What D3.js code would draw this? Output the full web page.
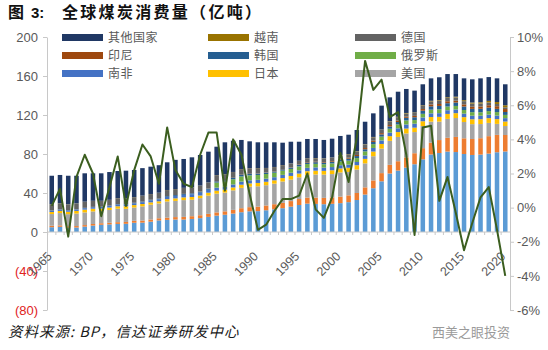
<!DOCTYPE html>
<html>
<head>
<meta charset="utf-8">
<script src="https://cdn.jsdelivr.net/npm/d3@7"></script>
<style>
  html, body { margin: 0; padding: 0; background: #fff; }
  svg { display: block; }
</style>
</head>
<body>
<div id="chart-area"></div>
<script>

// categories: 1965 ... 2020
const years = d3.range(1965, 2021);

// stacked series, bottom to top
const china = [4.9, 5.3, 4.4, 4.6, 5.5, 6.6, 7.4, 7.8, 8.3, 8.4,
  9.5, 9.6, 10.6, 11.9, 12.4, 12.8, 12.8, 13.4, 14.2, 15.5,
  16.8, 17.7, 18.9, 20.3, 21.2, 21.4, 22.3, 23.3, 24.4, 26.0,
  27.7, 29.1, 28.8, 28.5, 28.9, 29.6, 30.6, 32.8, 38.4, 44.9,
  52.0, 60.0, 63.0, 66.0, 69.5, 74.5, 79.5, 81.0, 82.5, 82.0,
  80.0, 79.0, 79.4, 80.4, 81.8, 82.6];
const india = [1.5, 1.5, 1.5, 1.5, 1.6, 1.6, 1.6, 1.7, 1.8, 1.9,
  2.0, 2.1, 2.2, 2.2, 2.3, 2.5, 2.7, 2.8, 3.0, 3.1,
  3.3, 3.5, 3.8, 4.1, 4.3, 4.6, 4.9, 5.2, 5.5, 5.7,
  6.1, 6.2, 6.5, 6.5, 6.6, 6.7, 7.0, 7.2, 7.4, 8.0,
  8.4, 8.9, 9.6, 10.5, 11.3, 11.5, 12.1, 13.3, 14.1, 15.5,
  16.1, 16.4, 16.8, 17.9, 17.8, 16.9];
const usa = [12.0, 12.6, 12.4, 12.8, 13.0, 12.9, 12.4, 13.1, 13.8, 13.5,
  13.6, 14.6, 15.2, 15.2, 16.6, 16.6, 17.2, 16.9, 17.5, 18.7,
  19.2, 19.2, 20.0, 20.9, 21.0, 20.9, 20.8, 21.1, 21.9, 22.1,
  22.3, 23.3, 23.7, 23.9, 23.9, 24.8, 24.0, 24.1, 24.6, 24.8,
  25.1, 24.6, 24.9, 24.6, 21.7, 22.7, 21.6, 18.9, 19.4, 19.4,
  16.7, 15.2, 14.5, 13.6, 11.3, 9.2];
const japan = [2.1, 2.2, 2.5, 2.7, 2.8, 2.8, 2.6, 2.5, 2.5, 2.6,
  2.5, 2.4, 2.4, 2.2, 2.4, 2.6, 2.8, 2.8, 2.7, 3.0,
  3.1, 3.0, 3.0, 3.2, 3.3, 3.4, 3.5, 3.4, 3.5, 3.7,
  3.8, 3.8, 3.9, 3.8, 3.9, 4.1, 4.3, 4.4, 4.6, 4.8,
  4.8, 4.8, 5.0, 5.0, 4.5, 4.9, 4.7, 4.9, 5.1, 5.0,
  5.0, 5.0, 5.0, 4.9, 4.9, 4.6];
const southAfrica = [1.3, 1.3, 1.4, 1.4, 1.5, 1.5, 1.6, 1.6, 1.7, 1.7,
  1.8, 1.9, 2.0, 2.1, 2.3, 2.5, 2.6, 2.8, 2.9, 3.0,
  3.1, 3.1, 3.1, 3.2, 3.2, 3.2, 3.2, 3.2, 3.3, 3.3,
  3.4, 3.4, 3.4, 3.3, 3.3, 3.3, 3.2, 3.3, 3.5, 3.7,
  3.6, 3.6, 3.9, 4.2, 4.1, 3.9, 3.8, 3.8, 3.8, 3.8,
  3.6, 3.7, 3.6, 3.6, 3.6, 3.5];
const russia = [0, 0, 0, 0, 0, 0, 0, 0, 0, 0,
  0, 0, 0, 0, 0, 0, 0, 0, 0, 0,
  5.2, 5.2, 5.3, 5.3, 5.1, 5.0, 4.8, 4.6, 4.3, 3.9,
  4.0, 3.9, 3.6, 3.5, 3.7, 3.9, 4.1, 4.0, 4.2, 3.9,
  3.9, 4.0, 3.9, 4.1, 3.7, 3.7, 3.8, 4.0, 3.8, 3.6,
  3.7, 3.6, 3.5, 3.6, 3.6, 3.3];
const korea = [0.3, 0.3, 0.3, 0.3, 0.4, 0.4, 0.4, 0.4, 0.5, 0.5,
  0.6, 0.6, 0.7, 0.7, 0.8, 0.9, 1.0, 1.0, 1.1, 1.2,
  1.3, 1.4, 1.4, 1.5, 1.4, 1.4, 1.3, 1.3, 1.4, 1.4,
  1.5, 1.6, 1.7, 1.7, 1.8, 1.9, 2.0, 2.1, 2.2, 2.3,
  2.3, 2.4, 2.5, 2.7, 2.9, 3.2, 3.4, 3.4, 3.4, 3.5,
  3.6, 3.4, 3.6, 3.6, 3.3, 3.0];
const indonesia = [0, 0, 0, 0, 0, 0, 0, 0, 0, 0,
  0, 0, 0, 0, 0, 0, 0, 0, 0.1, 0.1,
  0.1, 0.1, 0.1, 0.2, 0.2, 0.2, 0.2, 0.3, 0.3, 0.3,
  0.4, 0.5, 0.5, 0.6, 0.7, 0.9, 1.0, 1.1, 1.2, 1.2,
  1.3, 1.4, 1.5, 1.2, 1.4, 1.7, 1.9, 2.0, 2.0, 1.9,
  2.2, 2.2, 2.3, 2.4, 2.7, 3.0];
const germany = [6.4, 6.2, 5.9, 6.0, 6.2, 6.1, 5.9, 5.8, 6.0, 5.9,
  5.7, 6.0, 5.8, 5.9, 6.2, 6.1, 6.1, 6.0, 6.0, 6.1,
  6.2, 6.1, 5.9, 5.8, 5.7, 5.4, 4.6, 4.2, 4.0, 3.9,
  3.8, 3.8, 3.6, 3.6, 3.4, 3.6, 3.6, 3.6, 3.6, 3.6,
  3.4, 3.5, 3.5, 3.3, 3.0, 3.2, 3.2, 3.3, 3.4, 3.3,
  3.3, 3.2, 3.1, 2.9, 2.3, 1.8];
const vietnam = [0.1, 0.1, 0.1, 0.1, 0.1, 0.1, 0.1, 0.1, 0.1, 0.1,
  0.1, 0.1, 0.1, 0.1, 0.1, 0.1, 0.1, 0.1, 0.1, 0.1,
  0.1, 0.1, 0.1, 0.1, 0.1, 0.1, 0.1, 0.1, 0.1, 0.1,
  0.1, 0.1, 0.2, 0.2, 0.2, 0.2, 0.2, 0.3, 0.3, 0.3,
  0.3, 0.4, 0.4, 0.5, 0.5, 0.6, 0.6, 0.6, 0.7, 0.8,
  1.0, 1.1, 1.2, 1.6, 2.0, 2.1];
const others = [29.1, 29.0, 29.2, 28.3, 29.1, 28.2, 28.2, 28.5, 27.9, 28.3,
  27.8, 28.2, 28.0, 28.2, 28.4, 29.9, 29.6, 30.8, 31.4, 31.6,
  29.1, 32.6, 32.0, 29.8, 27.5, 26.4, 26.3, 25.3, 22.9, 22.2,
  19.5, 19.7, 19.5, 18.8, 19.3, 19.5, 19.8, 21.7, 23.1, 24.2,
  24.5, 24.5, 25.7, 24.6, 22.4, 21.6, 23.0, 23.5, 23.8, 23.2,
  22.4, 23.8, 24.6, 24.4, 24.3, 21.5];

// growth of world consumption, % (right axis)
const growth = [0.1, 1.1, -1.7, 1.8, 3.1, 2.0, -0.5, 1.2, 3.0, 0.1,
  2.2, 3.7, 3.0, 1.4, 4.7, 2.2, 1.4, 1.2, 3.1, 4.4,
  4.4, 1.0, 4.0, 3.1, 0.8, -1.3, -1.0, -0.2, 0.5, 0.5,
  0.7, 2.0, -0.1, -0.6, 0.6, 3.2, 1.5, 4.1, 8.6, 6.9,
  7.5, 5.3, 5.6, 3.1, -1.6, 4.7, 4.8, 0.4, 1.8, -0.3,
  -2.5, -0.9, 0.6, 1.2, -1.3, -4.0];

const leftTicks = [-80, -40, 0, 40, 80, 120, 160, 200];
const rightTicks = [-6, -4, -2, 0, 2, 4, 6, 8, 10];

const seriesNames = ['中国', '印度', '美国', '日本', '南非', '俄罗斯', '韩国', '印尼', '德国', '越南', '其他国家'];
const seriesValues = [china, india, usa, japan, southAfrica, russia, korea, indonesia, germany, vietnam, others];
const legendNames = ['其他国家', '越南', '德国', '印尼', '韩国', '俄罗斯', '南非', '日本', '美国'];

const colors = {
  '中国': '#5b9bd5',
  '印度': '#ed7d31',
  '美国': '#a5a5a5',
  '日本': '#ffc000',
  '南非': '#4472c4',
  '俄罗斯': '#70ad47',
  '韩国': '#255e91',
  '印尼': '#9e480e',
  '德国': '#636363',
  '越南': '#997300',
  '其他国家': '#203864'
};

const width = 548;
const height = 350;
const plot = { left: 47, right: 510, top: 37, bottom: 310 };
const axisColor = '#c8c8c8';
const labelColor = '#595959';
const numFont = '"Liberation Sans", Arial, sans-serif';
const cjkFont = '"Noto Sans CJK SC", sans-serif';

const rows = years.map((y, i) => {
  const row = { year: y };
  seriesNames.forEach((n, k) => { row[n] = seriesValues[k][i]; });
  return row;
});

const stacked = d3.stack().keys(seriesNames)(rows);

const scaleX = d3.scaleBand()
  .domain(years)
  .range([plot.left, plot.right])
  .paddingInner(0.45)
  .paddingOuter(0.3);

const scaleY = d3.scaleLinear()
  .domain([-80, 200])
  .range([plot.bottom, plot.top]);

const scaleY2 = d3.scaleLinear()
  .domain([-6, 10])
  .range([plot.bottom, plot.top]);

const svg = d3.select('#chart-area').append('svg')
  .attr('width', width)
  .attr('height', height);

svg.append('rect')
  .attr('width', width)
  .attr('height', height)
  .attr('fill', '#fff');

// title
const title = svg.append('g')
  .attr('font-family', cjkFont)
  .attr('font-weight', 700)
  .attr('fill', '#111');
title.append('text').attr('x', 8).attr('y', 18).attr('font-size', 16).text('图');
title.append('text').attr('x', 31).attr('y', 18).attr('font-size', 15)
  .attr('font-family', numFont).text('3:');
title.append('text').attr('x', 62).attr('y', 18).attr('font-size', 16)
  .attr('letter-spacing', 2.3).text('全球煤炭消费量（亿吨）');

// left axis
const axisL = d3.axisLeft(scaleY)
  .tickValues(leftTicks)
  .tickSize(4)
  .tickSizeOuter(0)
  .tickPadding(5)
  .tickFormat(d => d < 0 ? `(${-d})` : d);

const gL = svg.append('g')
  .attr('transform', `translate(${plot.left}, 0)`)
  .call(axisL);
gL.selectAll('path, line').attr('stroke', axisColor);
gL.selectAll('text')
  .attr('font-family', numFont)
  .attr('font-size', 13)
  .attr('fill', d => d < 0 ? '#e0231d' : labelColor);

// right axis
const axisR = d3.axisRight(scaleY2)
  .tickValues(rightTicks)
  .tickSize(4)
  .tickSizeOuter(0)
  .tickPadding(3)
  .tickFormat(d => `${d}%`);

const gR = svg.append('g')
  .attr('transform', `translate(${plot.right}, 0)`)
  .call(axisR);
gR.selectAll('path, line').attr('stroke', axisColor);
gR.selectAll('text')
  .attr('font-family', numFont)
  .attr('font-size', 13)
  .attr('fill', labelColor);

// bars
svg.append('g')
  .selectAll('g')
  .data(stacked)
  .join('g')
    .attr('fill', d => colors[d.key])
  .selectAll('rect')
  .data(d => d)
  .join('rect')
    .attr('x', d => scaleX(d.data.year))
    .attr('y', d => scaleY(d[1]))
    .attr('width', scaleX.bandwidth())
    .attr('height', d => Math.max(0, scaleY(d[0]) - scaleY(d[1])));

// category axis at zero
const y0 = scaleY(0);
const gX = svg.append('g');
gX.append('line')
  .attr('x1', plot.left).attr('x2', plot.right)
  .attr('y1', y0).attr('y2', y0)
  .attr('stroke', axisColor);
gX.selectAll('line.tick')
  .data(years)
  .join('line')
    .attr('class', 'tick')
    .attr('x1', d => scaleX(d) - scaleX.step() * scaleX.paddingInner() / 2)
    .attr('x2', d => scaleX(d) - scaleX.step() * scaleX.paddingInner() / 2)
    .attr('y1', y0)
    .attr('y2', y0 + 3)
    .attr('stroke', axisColor);
gX.selectAll('text')
  .data(years.filter(d => d % 5 === 0))
  .join('text')
    .attr('transform', d => `translate(${scaleX(d) + scaleX.bandwidth() / 2 + 1}, 257) rotate(-45)`)
    .attr('text-anchor', 'end')
    .attr('font-family', numFont)
    .attr('font-size', 12.5)
    .attr('fill', labelColor)
    .text(d => d);

// legend
const legend = svg.append('g')
  .attr('font-family', cjkFont)
  .attr('font-size', 12)
  .attr('fill', labelColor);
const colX = [62, 208, 355];
const rowY = [37.5, 55.5, 73.5];
legendNames.forEach((n, i) => {
  const x = colX[i % 3];
  const y = rowY[Math.floor(i / 3)];
  legend.append('rect')
    .attr('x', x).attr('y', y - 3.5)
    .attr('width', 41).attr('height', 7)
    .attr('fill', colors[n]);
  legend.append('text')
    .attr('x', x + 46).attr('y', y + 4.5)
    .attr('letter-spacing', 0.5)
    .text(n);
});

// growth line
const line = d3.line()
  .x((d, i) => scaleX(years[i]) + scaleX.bandwidth() / 2)
  .y(d => scaleY2(d));

svg.append('path')
  .datum(growth)
  .attr('d', line)
  .attr('fill', 'none')
  .attr('stroke', '#3b5e1f')
  .attr('stroke-width', 2)
  .attr('stroke-linejoin', 'round');

// source
svg.append('text')
  .attr('x', 8)
  .attr('y', 337)
  .attr('font-family', cjkFont)
  .attr('font-size', 14.5)
  .attr('font-style', 'italic')
  .attr('letter-spacing', 1)
  .attr('fill', '#1a1a1a')
  .text('资料来源: BP，信达证券研发中心');

svg.append('text')
  .attr('x', 432)
  .attr('y', 337)
  .attr('font-family', cjkFont)
  .attr('font-size', 13)
  .attr('fill', '#9a9a9a')
  .text('西美之眼投资');

</script>
</body>
</html>
